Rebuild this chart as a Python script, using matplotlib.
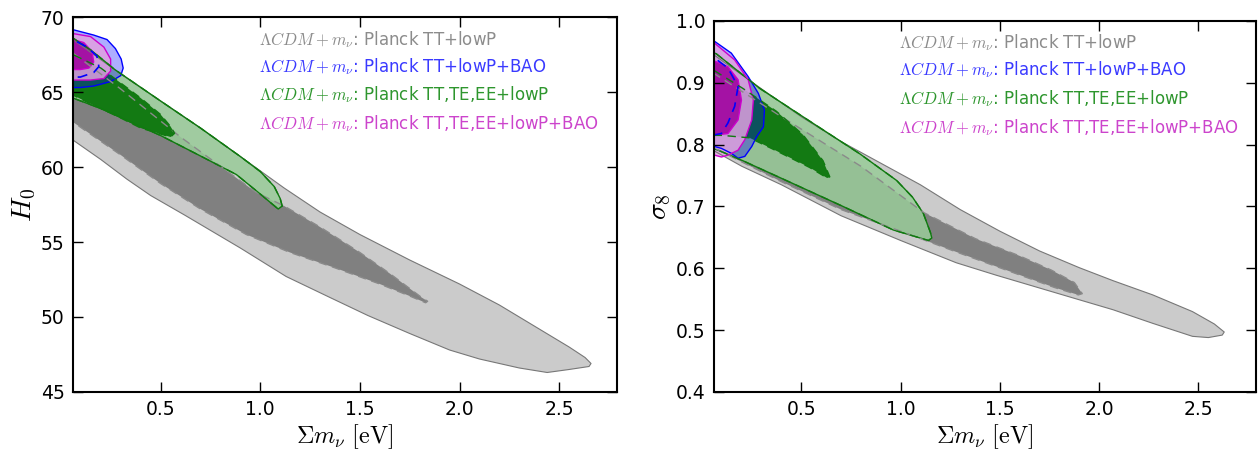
import numpy as np
import matplotlib.pyplot as plt

plt.rcParams['mathtext.fontset'] = 'cm'
plt.rcParams['font.family'] = 'DejaVu Sans'

# legend labels and colours
labels = [r'$\Lambda CDM+m_\nu$: Planck TT+lowP',
          r'$\Lambda CDM+m_\nu$: Planck TT+lowP+BAO',
          r'$\Lambda CDM+m_\nu$: Planck TT,TE,EE+lowP',
          r'$\Lambda CDM+m_\nu$: Planck TT,TE,EE+lowP+BAO']
label_colors = ['#8c8c8c', '#3a3aff', '#2e962e', '#cc44cc']

# ---- left panel: H0 vs sum m_nu, contours ----
# TT+lowP (gray)
H_gray95 = [(0.0, 69.0), (0.06, 68.5), (0.3, 66.2), (0.5, 64.4), (0.7, 62.6), (0.9, 60.7),
            (1.12, 58.6), (1.3, 57.0), (1.5, 55.5), (1.75, 53.8), (2.0, 52.2), (2.2, 50.8),
            (2.4, 49.2), (2.55, 48.0), (2.63, 47.3), (2.66, 46.9),
            (2.65, 46.7), (2.55, 46.5), (2.44, 46.3), (2.3, 46.6), (2.1, 47.2), (1.95, 47.8),
            (1.75, 48.9), (1.54, 50.1), (1.35, 51.3), (1.13, 52.7), (0.9, 54.6), (0.62, 56.8),
            (0.45, 58.1), (0.33, 59.2), (0.2, 60.5), (0.06, 61.8), (0.0, 62.4)]
H_gray68 = [(0.0, 68.0), (0.06, 67.6), (0.3, 65.2), (0.6, 62.0), (0.98, 58.3), (1.12, 57.4),
            (1.3, 56.0), (1.5, 54.3), (1.65, 52.9), (1.75, 51.9), (1.81, 51.3), (1.84, 51.05),
            (1.83, 50.95), (1.75, 51.4), (1.6, 52.2), (1.37, 53.3), (1.15, 54.3), (0.93, 55.5),
            (0.7, 57.2), (0.5, 58.9), (0.3, 60.8), (0.06, 63.0), (0.0, 63.5)]
# TT,TE,EE+lowP (green)
H_green95 = [(0.0, 69.0), (0.06, 68.6), (0.15, 67.8), (0.27, 66.5), (0.5, 64.4), (0.7, 62.6),
             (0.9, 60.7), (1.0, 59.7), (1.07, 58.7), (1.10, 57.9), (1.11, 57.4),
             (1.09, 57.2), (1.0, 58.2), (0.88, 59.5), (0.72, 60.6), (0.5, 62.1), (0.3, 63.3),
             (0.2, 63.9), (0.06, 64.6), (0.0, 64.9)]
H_green68 = [(0.0, 67.8), (0.06, 67.5), (0.2, 66.6), (0.4, 64.6), (0.5, 63.5), (0.55, 62.7),
             (0.57, 62.25), (0.55, 62.0), (0.4, 62.6), (0.28, 63.4), (0.15, 64.2),
             (0.06, 64.8), (0.0, 65.1)]
# TT+lowP+BAO (blue)
H_blue95 = [(0.0, 69.3), (0.06, 69.16), (0.164, 68.8), (0.231, 68.5), (0.273, 67.9), (0.302, 67.2),
            (0.312, 66.6), (0.30, 66.1), (0.25, 65.7), (0.164, 65.4), (0.097, 65.3), (0.0, 65.3)]
H_blue68 = [(0.0, 68.6), (0.06, 68.5), (0.13, 68.0), (0.18, 67.4), (0.19, 66.7), (0.164, 66.3),
            (0.097, 66.0), (0.0, 66.0)]
# TT,TE,EE+lowP+BAO (magenta)
H_mag95 = [(0.0, 69.0), (0.06, 68.9), (0.148, 68.7), (0.215, 68.0), (0.249, 67.2), (0.249, 66.4),
           (0.215, 65.9), (0.148, 65.8), (0.08, 65.8), (0.0, 65.8)]
H_mag68 = [(0.0, 68.6), (0.06, 68.5), (0.114, 68.3), (0.156, 67.7), (0.164, 67.0), (0.14, 66.6),
           (0.097, 66.5), (0.0, 66.5)]

# ---- right panel: sigma8 vs sum m_nu ----
S_gray95 = [(0.0, 0.96), (0.06, 0.945), (0.3, 0.89), (0.5, 0.845), (0.7, 0.805), (0.9, 0.77),
            (1.1, 0.735), (1.3, 0.695), (1.5, 0.66), (1.7, 0.628), (1.9, 0.601), (2.07, 0.58),
            (2.27, 0.557), (2.47, 0.53), (2.58, 0.51), (2.63, 0.497),
            (2.62, 0.492), (2.55, 0.488), (2.47, 0.490), (2.27, 0.511), (2.07, 0.533),
            (1.88, 0.551), (1.68, 0.570), (1.48, 0.589), (1.28, 0.609), (1.0, 0.645),
            (0.7, 0.685), (0.4, 0.735), (0.2, 0.765), (0.06, 0.79), (0.0, 0.80)]
S_gray68 = [(0.0, 0.93), (0.06, 0.915), (0.4, 0.845), (0.8, 0.765), (1.117, 0.69), (1.376, 0.648),
            (1.6, 0.62), (1.76, 0.597), (1.875, 0.577), (1.915, 0.559),
            (1.895, 0.557), (1.775, 0.569), (1.576, 0.592), (1.276, 0.627), (1.0, 0.66),
            (0.7, 0.695), (0.4, 0.74), (0.2, 0.772), (0.06, 0.795), (0.0, 0.805)]
S_green95 = [(0.0, 0.955), (0.071, 0.947), (0.29, 0.891), (0.542, 0.838), (0.795, 0.785),
             (0.98, 0.742), (1.06, 0.715), (1.114, 0.689), (1.15, 0.658), (1.157, 0.649),
             (1.14, 0.645), (0.963, 0.662), (0.71, 0.70), (0.458, 0.737), (0.205, 0.774),
             (0.088, 0.79), (0.0, 0.80)]
S_green68 = [(0.0, 0.93), (0.06, 0.92), (0.205, 0.891), (0.374, 0.854), (0.508, 0.816),
             (0.609, 0.774), (0.643, 0.748), (0.63, 0.746), (0.542, 0.763), (0.374, 0.79),
             (0.239, 0.811), (0.1, 0.815), (0.0, 0.815)]
S_blue95 = [(0.0, 0.97), (0.063, 0.967), (0.147, 0.948), (0.232, 0.910), (0.283, 0.883),
            (0.314, 0.856), (0.309, 0.829), (0.275, 0.813), (0.25, 0.797), (0.215, 0.781),
            (0.181, 0.778), (0.147, 0.786), (0.097, 0.794), (0.063, 0.797), (0.0, 0.798)]
S_blue68 = [(0.0, 0.945), (0.063, 0.94), (0.13, 0.924), (0.181, 0.894), (0.164, 0.862),
            (0.13, 0.835), (0.097, 0.818), (0.063, 0.816), (0.0, 0.816)]
S_mag95 = [(0.0, 0.966), (0.063, 0.964), (0.164, 0.937), (0.232, 0.905), (0.258, 0.872),
           (0.25, 0.84), (0.215, 0.808), (0.181, 0.791), (0.13, 0.783), (0.097, 0.78),
           (0.063, 0.783), (0.0, 0.785)]
S_mag68 = [(0.0, 0.937), (0.063, 0.935), (0.13, 0.926), (0.181, 0.905), (0.198, 0.872),
           (0.181, 0.84), (0.13, 0.818), (0.08, 0.816), (0.0, 0.816)]

xticks = [0.5, 1.0, 1.5, 2.0, 2.5]
H_ticks = [45, 50, 55, 60, 65, 70]
S_ticks = [0.4, 0.5, 0.6, 0.7, 0.8, 0.9, 1.0]


def closed(poly):
    p = np.array(poly + [poly[0]])
    return p[:, 0], p[:, 1]


def draw(ax, g95, g68, gr95, gr68, b95, b68, m95, m68):
    x, y = closed(g95)
    ax.fill(x, y, color='#cbcbcb', lw=0)
    ax.plot(x, y, color='#777777', lw=0.8)
    x, y = closed(g68)
    ax.fill(x, y, color='#808080', lw=0)
    x, y = closed(gr95)
    ax.fill(x, y, color='#99cc99', alpha=0.85, lw=0)
    ax.plot(x, y, color='#107a10', lw=1.0)
    x, y = closed(gr68)
    ax.fill(x, y, color='#137a13', lw=0)
    x, y = closed(b95)
    ax.fill(x, y, color='#0000ff', alpha=0.32, lw=0)
    ax.plot(x, y, color='#0000ff', lw=1.0)
    x, y = closed(m95)
    ax.fill(x, y, color='#e0a0e0', alpha=0.85, lw=0)
    ax.plot(x, y, color='#cc00cc', lw=1.0)
    x, y = closed(m68)
    ax.fill(x, y, color='#a412a4', lw=0)
    ax.plot(x, y, color='#cc00cc', lw=1.0)
    # dashed outlines drawn on top
    x, y = closed(g68)
    ax.plot(x, y, color='#8a8a8a', lw=1.0, dashes=(6, 4))
    x, y = closed(gr95)
    ax.plot(x, y, color='#107a10', lw=1.0, dashes=(6, 4))
    x, y = closed(gr68)
    ax.plot(x, y, color='#107a10', lw=1.0, dashes=(6, 4))
    x, y = closed(b68)
    ax.plot(x, y, color='#0000ff', lw=1.2, dashes=(6, 4))


fig = plt.figure(figsize=(12.58, 4.55), dpi=100)
axL = fig.add_axes([0.058, 0.1385, 0.4324, 0.824])
axR = fig.add_axes([0.5676, 0.1385, 0.4308, 0.8154])

draw(axL, H_gray95, H_gray68, H_green95, H_green68, H_blue95, H_blue68, H_mag95, H_mag68)
draw(axR, S_gray95, S_gray68, S_green95, S_green68, S_blue95, S_blue68, S_mag95, S_mag68)

for ax, yl, yt, ylab, ty in [(axL, (45, 70), H_ticks, r'$H_0$', [0.941, 0.867, 0.792, 0.717]),
                             (axR, (0.4, 1.0), S_ticks, r'$\sigma_8$', [0.941, 0.868, 0.792, 0.714])]:
    ax.set_xlim(0.06, 2.79)
    ax.set_ylim(*yl)
    ax.set_xticks(xticks)
    ax.set_yticks(yt)
    if ax is axR:
        ax.set_yticklabels(['%.1f' % v for v in yt])
    ax.tick_params(direction='in', top=True, right=True, length=7, width=1, labelsize=13.5, pad=6)
    for s in ax.spines.values():
        s.set_linewidth(1.5)
    ax.set_xlabel(r'$\Sigma m_\nu\ [\mathrm{eV}]$', fontsize=17.5, labelpad=2)
    ax.set_ylabel(ylab, fontsize=20, labelpad=2)
    for lab, col, yy in zip(labels, label_colors, ty):
        ax.text(0.342, yy, lab, color=col, fontsize=12, transform=ax.transAxes, va='center')

fig.savefig('out.png', dpi=100)
